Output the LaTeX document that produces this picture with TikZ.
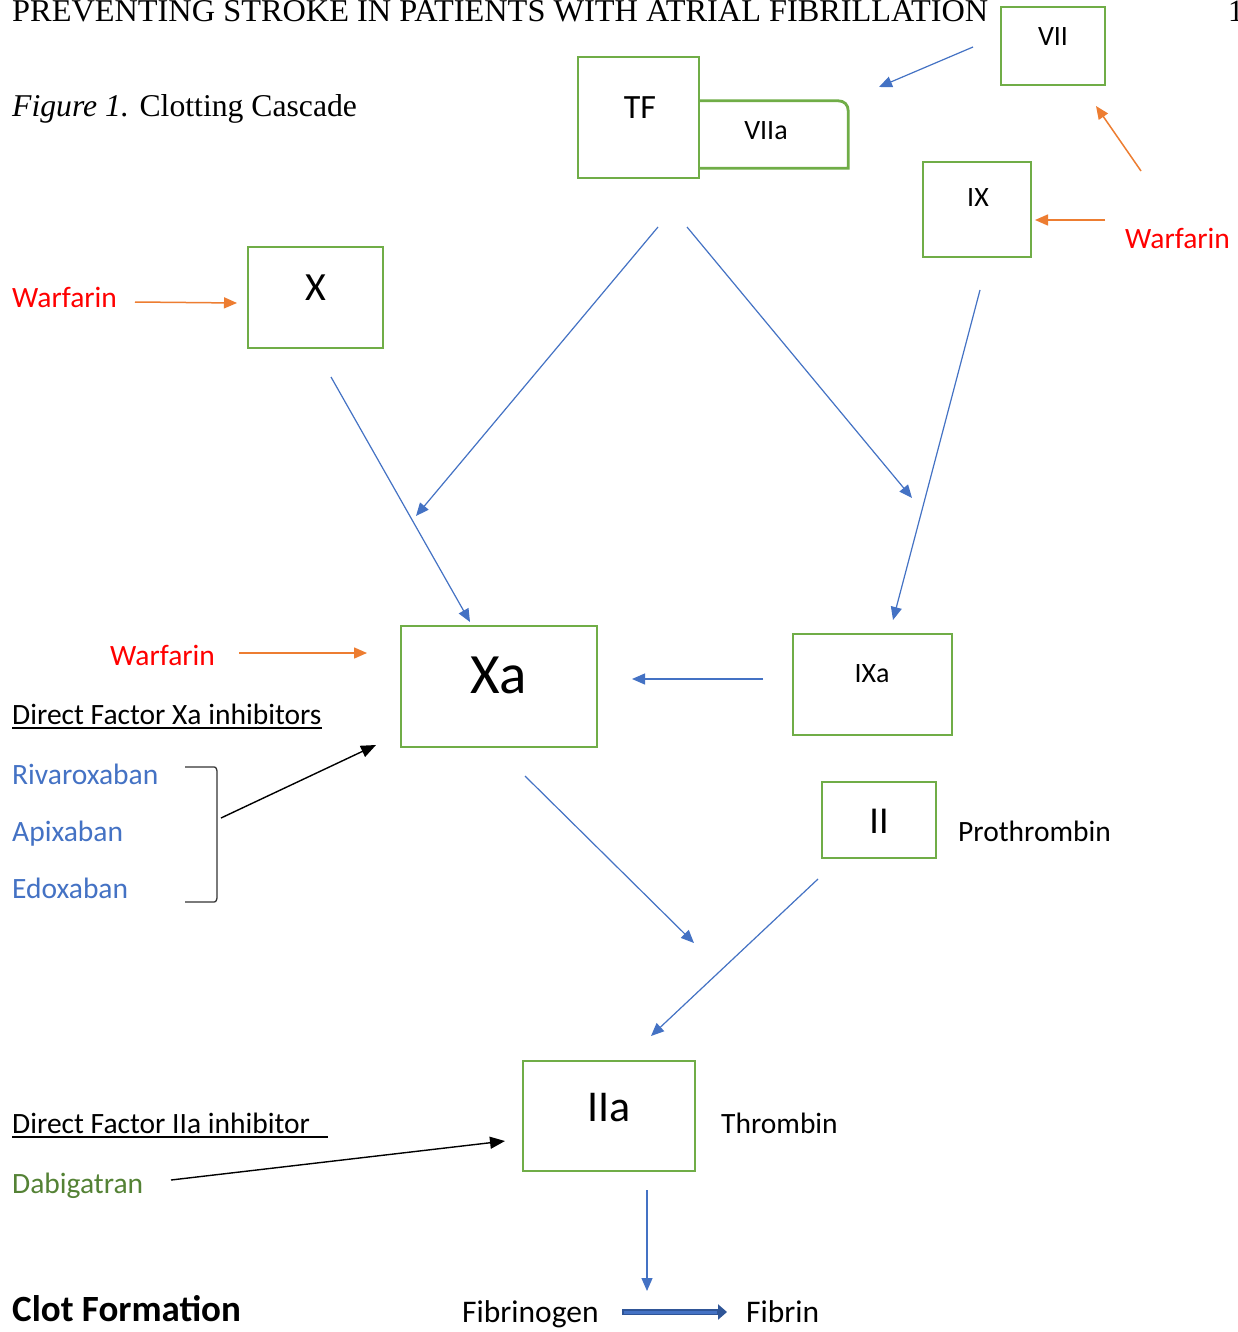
\documentclass[tikz,border=0pt]{standalone}
\usepackage{fontspec}
\setmainfont{Carlito}
\newfontfamily\timesf{Liberation Serif}
\usetikzlibrary{arrows.meta}
\definecolor{boxgreen}{HTML}{70AD47}
\definecolor{arrblue}{HTML}{4472C4}
\definecolor{warforange}{HTML}{ED7D31}
\definecolor{warfred}{HTML}{FF0000}
\definecolor{dabigreen}{HTML}{548235}
\definecolor{darkblue}{HTML}{2F5597}
\begin{document}
\begin{tikzpicture}[x=1pt,y=-1pt,
  gbox/.style={draw=boxgreen, line width=2.8pt, inner sep=0pt},
  lab/.style={inner sep=0pt, anchor=base},
  txt/.style={inner sep=0pt, anchor=base west, font=\fontsize{29.5}{34}\selectfont},
  bigtxt/.style={font=\fontsize{31.5}{36}\selectfont},
  small/.style={font=\fontsize{28}{33}\selectfont},
  barrow/.style={draw=arrblue, line width=1.2pt, -{Triangle[length=13pt,width=11pt]}},
  oarrow/.style={draw=warforange, line width=1.5pt, -{Triangle[length=13pt,width=11pt]}},
  karrow/.style={draw=black, line width=1.4pt, -{Triangle[length=15pt,width=12pt]}}
]
\useasboundingbox[fill=white] (0,0) rectangle (1238,1332);

% header
\node[inner sep=0pt, anchor=base west] (head) at (12,22)
  {\timesf\resizebox{976pt}{21pt}{PREVENTING STROKE IN PATIENTS WITH ATRIAL FIBRILLATION}};
\node[inner sep=0pt, anchor=base west, font=\timesf\fontsize{31}{36}\selectfont] (pnum) at (1228,22) {1};
\node[inner sep=0pt, anchor=base west, font=\timesf\fontsize{31.7}{38}\selectfont] (fig) at (12,117)
  {\textit{Figure 1.} Clotting Cascade};

% boxes
\node[gbox, minimum width=121pt, minimum height=121pt] (tf) at (638.5,117.5) {};
\node[inner sep=0pt, minimum width=149pt, minimum height=67pt] (viia) at (773.5,134.5) {};
\draw[draw=boxgreen, line width=2.8pt]
  (viia.north west) -- ([xshift=-10pt]viia.north east)
  .. controls ([xshift=-4pt]viia.north east) and ([yshift=-4pt]viia.north east) .. ([yshift=-10pt]viia.north east)
  -- (viia.south east) -- (viia.south west);
\node[gbox, minimum width=104pt, minimum height=78pt] (vii) at (1053,46) {};
\node[gbox, minimum width=108pt, minimum height=95pt] (ix) at (977,209.5) {};
\node[gbox, minimum width=135pt, minimum height=101pt] (x) at (315.5,297.5) {};
\node[gbox, minimum width=196pt, minimum height=121pt] (xa) at (499,686.5) {};
\node[gbox, minimum width=159pt, minimum height=101pt] (ixa) at (872.5,684.5) {};
\node[gbox, minimum width=114pt, minimum height=76pt] (ii) at (879,820) {};
\node[gbox, minimum width=172pt, minimum height=110pt] (iia) at (609,1116) {};

% box labels
\node[lab, font=\fontsize{34}{40}\selectfont] (tft) at (640,119) {TF};
\node[lab, small] (viiat) at (766,140) {VIIa};
\node[lab, small] (viit) at (1053,46) {VII};
\node[lab, small] (ixt) at (978,207) {IX};
\node[lab, font=\fontsize{40}{46}\selectfont] (xt) at (316,300) {X};
\node[lab, font=\fontsize{57}{64}\selectfont] (xat) at (498.5,693) {Xa};
\node[lab, small] (ixat) at (872,682) {IXa};
\node[lab, font=\fontsize{38}{44}\selectfont] (iit) at (879,833) {II};
\node[lab, font=\fontsize{44}{50}\selectfont] (iiat) at (609,1121) {IIa};

% texts
\node[txt, text=warfred] (w1) at (1125,248) {Warfarin};
\node[txt, text=warfred] (w2) at (12,307) {Warfarin};
\node[txt, text=warfred] (w3) at (110,665) {Warfarin};
\node[txt] (dfxa) at (12,724) {Direct Factor Xa inhibitors};
\draw[line width=1.3pt] ([yshift=-4pt]dfxa.base west) -- ([yshift=-4pt]dfxa.base east);
\node[txt, text=arrblue] (riv) at (12,784) {Rivaroxaban};
\node[txt, text=arrblue] (api) at (12,841) {Apixaban};
\node[txt, text=arrblue] (edo) at (12,898) {Edoxaban};
\node[txt] (proth) at (958,841) {Prothrombin};
\node[txt] (thromb) at (721,1133) {Thrombin};
\node[txt] (dfiia) at (12,1133) {Direct Factor IIa inhibitor};
\draw[line width=1.3pt] ([yshift=-4pt]dfiia.base west) -- ++(316,0);
\node[txt, text=dabigreen] (dabi) at (12,1193) {Dabigatran};
\node[txt, font=\bfseries\fontsize{37}{42}\selectfont] (clot) at (12,1321) {Clot Formation};
\node[txt, bigtxt] (fgen) at (462,1322) {Fibrinogen};
\node[txt, bigtxt] (fib) at (746,1322) {Fibrin};

% bracket
\draw[line width=1.3pt, draw=black!80]
  (185,767) -- (212,767) .. controls (216,767) .. (217,771) -- (217,898)
  .. controls (216,902) .. (212,902) -- (185,902);

% coordinates
\coordinate (a1s) at (973,47);   \coordinate (a1e) at (879,87);
\coordinate (a2s) at (658,227);  \coordinate (a2e) at (416,516);
\coordinate (a3s) at (687,227);  \coordinate (a3e) at (912,498);
\coordinate (a4s) at (331,377);  \coordinate (a4e) at (470,622);
\coordinate (a5s) at (980,290);  \coordinate (a5e) at (893,620);
\coordinate (a6s) at (763,679);  \coordinate (a6e) at (632,679);
\coordinate (a7s) at (525,776);  \coordinate (a7e) at (694,943);
\coordinate (a8s) at (818,879);  \coordinate (a8e) at (651,1036);
\coordinate (a9s) at (647,1190); \coordinate (a9e) at (647,1291);
\coordinate (o1s) at (1141,171); \coordinate (o1e) at (1096,106);
\coordinate (o2s) at (1105,220); \coordinate (o2e) at (1035,220);
\coordinate (o3s) at (135,302);  \coordinate (o3e) at (237,303);
\coordinate (o4s) at (239,653);  \coordinate (o4e) at (367,653);
\coordinate (k1s) at (221,818);  \coordinate (k1e) at (376,745);
\coordinate (k2s) at (171,1180); \coordinate (k2e) at (505,1141);
\coordinate (fbs) at (622,1312); \coordinate (fbe) at (727,1312);

% blue arrows
\draw[barrow] (a1s) -- (a1e);
\draw[barrow] (a2s) -- (a2e);
\draw[barrow] (a3s) -- (a3e);
\draw[barrow] (a4s) -- (a4e);
\draw[barrow] (a5s) -- (a5e);
\draw[barrow] (a6s) -- (a6e);
\draw[barrow] (a7s) -- (a7e);
\draw[barrow] (a8s) -- (a8e);
\draw[barrow] (a9s) -- (a9e);
% orange arrows
\draw[oarrow] (o1s) -- (o1e);
\draw[oarrow] (o2s) -- (o2e);
\draw[oarrow] (o3s) -- (o3e);
\draw[oarrow] (o4s) -- (o4e);
% black arrows
\draw[karrow] (k1s) -- (k1e);
\draw[karrow] (k2s) -- (k2e);
% fibrinogen -> fibrin
\draw[draw=darkblue, line width=6.5pt, -{Triangle[length=9pt,width=15pt]}] (fbs) -- (fbe);
\draw[draw=arrblue, line width=3pt] ([xshift=1.5pt]fbs) -- ([xshift=-10pt]fbe);
\end{tikzpicture}
\end{document}
